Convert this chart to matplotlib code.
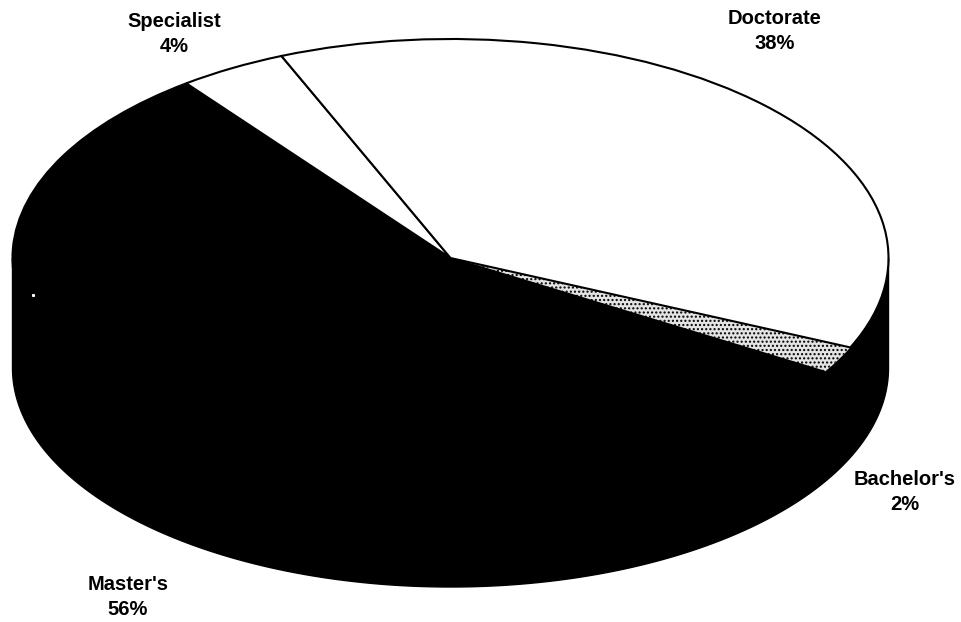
import numpy as np
import matplotlib
matplotlib.use('Agg')
import matplotlib.pyplot as plt
from matplotlib.transforms import Affine2D

plt.rcParams['font.family'] = ['Liberation Sans', 'DejaVu Sans']

# slices, clockwise from the top left
labels = ["Doctorate", "Bachelor's", "Master's", "Specialist"]
values = [38, 2, 56, 4]
colors = ['white', '#e4e4e4', 'black', 'white']

W, H = 961, 622
cx, cy = 450.5, 622 - 258
rx, ry = 438, 219
depth = 110

fig = plt.figure(figsize=(W / 100, H / 100), dpi=100)
ax = fig.add_axes([0, 0, 1, 1])

# side of the cylinder, lower half of the ellipse pushed down
t = np.linspace(np.pi, 2 * np.pi, 300)
xs = cx + rx * np.cos(t)
ys = cy + ry * np.sin(t)
ax.fill(np.r_[xs, xs[::-1]], np.r_[ys, ys[::-1] - depth], color='black', lw=1, zorder=1)

wedges, _ = ax.pie(values, colors=colors, startangle=112.7, counterclock=False,
                   wedgeprops=dict(edgecolor='black', linewidth=1.5))
squash = Affine2D().scale(rx, ry).translate(cx, cy) + ax.transData
for w in wedges:
    w.set_transform(squash)
    w.set_zorder(2)
wedges[1].set_hatch('....')
wedges[1].set_linewidth(0)
wedges[0].set_zorder(3)

ax.set_xlim(0, W)
ax.set_ylim(0, H)
ax.set_aspect('auto')
ax.axis('off')

# scan speck on the black side
ax.plot([33], [H - 295], marker='s', ms=1.2, color='white', zorder=4)

label_pos = [(775, 31), (905, 492), (128, 597), (174, 34)]
for name, v, (x, y) in zip(labels, values, label_pos):
    ax.text(x, H - y, '%s\n%d%%' % (name, v), ha='center', va='center',
            fontsize=14.5, fontweight='bold', linespacing=1.4, color='black', zorder=5)

fig.savefig('out.png', dpi=100, facecolor='white')
